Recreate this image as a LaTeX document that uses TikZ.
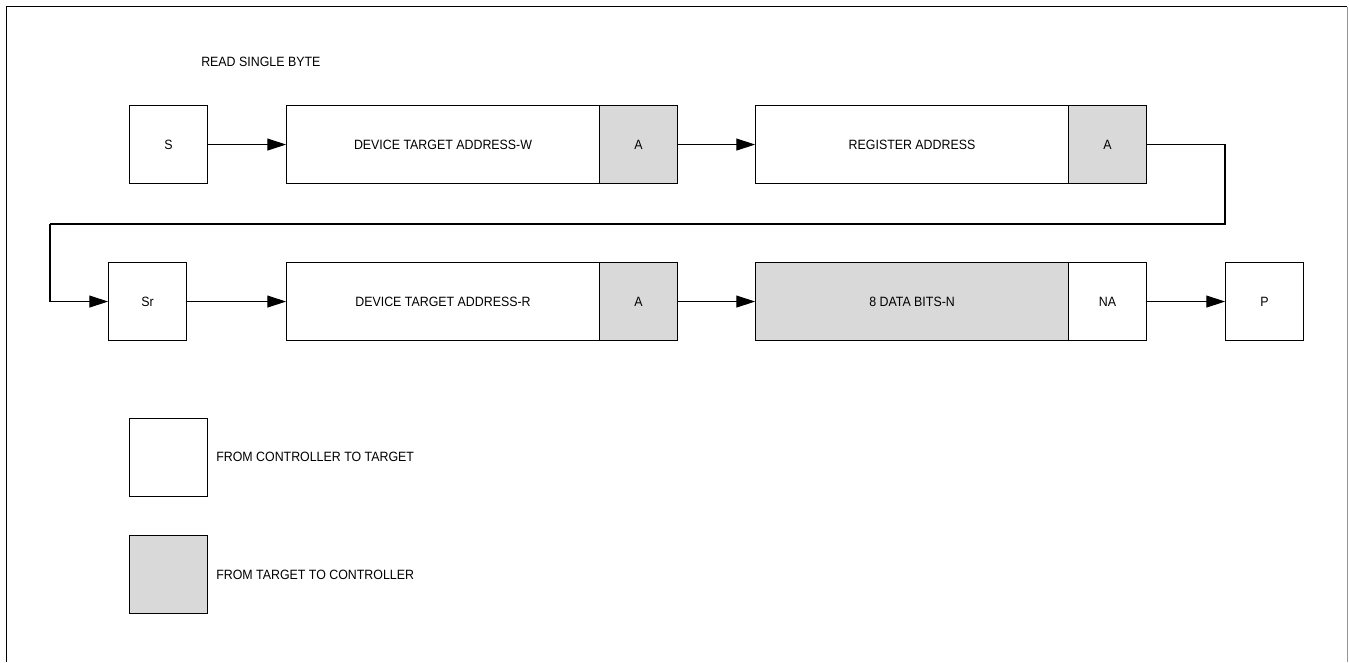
\documentclass[tikz,border=0pt]{standalone}
\usepackage{fontspec}
\setmainfont{Liberation Sans}[FakeStretch=0.92]
\usetikzlibrary{arrows.meta}
\definecolor{boxgray}{RGB}{217,217,217}
\definecolor{framegray}{RGB}{150,150,150}
\begin{document}
\begin{tikzpicture}[x=0.75pt,y=-0.75pt,
  txt/.style={font=\fontsize{10.1}{12}\selectfont, inner sep=0pt},
  box/.style={draw, line width=0.8pt, minimum height=58.5pt, inner sep=0pt, anchor=north west, txt},
  small/.style={box, minimum width=58.5pt},
  wide/.style={box, minimum width=234.75pt},
  grayfill/.style={fill=boxgray},
  conn/.style={line width=0.8pt, -{Triangle[length=14pt,width=9pt]}},
  wire/.style={line width=0.8pt}
]
\useasboundingbox (0,0) rectangle (1349,662);
% frame
\draw[line width=1.2pt] (6.5,662) -- (6.5,6.5) -- (1347,6.5);
\draw[framegray, line width=1pt] (1347.5,6.5) -- (1347.5,662);

\node[txt, anchor=west] (title) at (201,62) {READ SINGLE BYTE};

% row 1
\node[small] (s) at (129,105) {S};
\node[wide] (dw) at (286,105) {DEVICE TARGET ADDRESS-W};
\node[small, grayfill] (aw) at (599,105) {A};
\node[wide] (ra) at (755,105) {REGISTER ADDRESS};
\node[small, grayfill] (ar) at (1068,105) {A};

% row 2
\node[small] (sr) at (108,262) {Sr};
\node[wide] (dr) at (286,262) {DEVICE TARGET ADDRESS-R};
\node[small, grayfill] (adr) at (599,262) {A};
\node[wide, grayfill] (data) at (755,262) {8 DATA BITS-N};
\node[small] (na) at (1068,262) {NA};
\node[small] (p) at (1225,262) {P};

% legend
\node[small] (lw) at (129,418) {};
\node[txt, anchor=west] (lwt) at (216,457) {FROM CONTROLLER TO TARGET};
\node[small, grayfill] (lg) at (129,535) {};
\node[txt, anchor=west] (lgt) at (216,575) {FROM TARGET TO CONTROLLER};

% connectors
\draw[conn] (s.east) -- (dw.west);
\draw[conn] (aw.east) -- (ra.west);
\coordinate (c1) at (1225,224);
\coordinate (c2) at (50,224);
\draw[wire] (ar.east) -| (c1) -- (c2);
\draw[conn] (c2) |- (sr.west);
\draw[conn] (sr.east) -- (dr.west);
\draw[conn] (adr.east) -- (data.west);
\draw[conn] (na.east) -- (p.west);
\end{tikzpicture}
\end{document}
